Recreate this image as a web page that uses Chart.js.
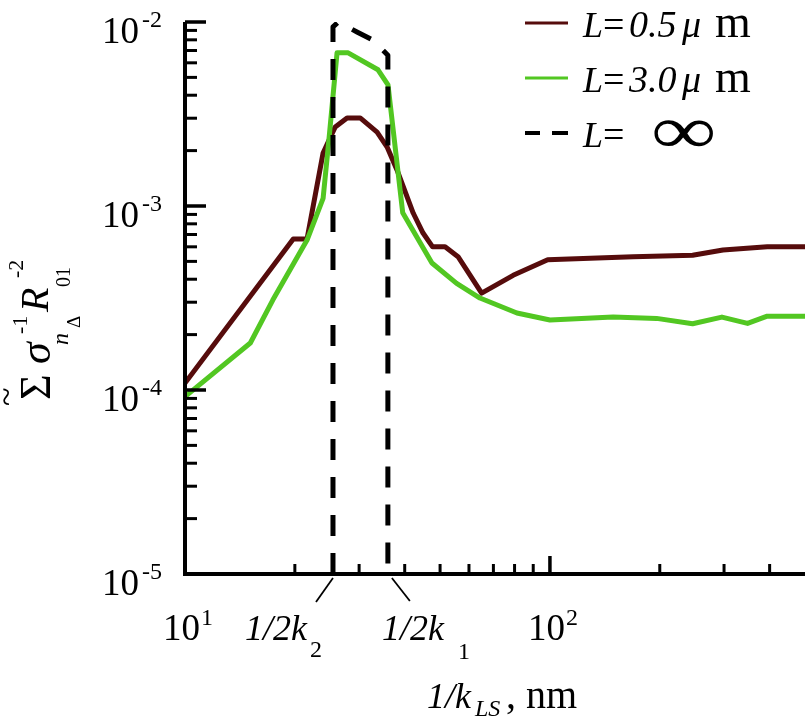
<!DOCTYPE html>
<html>
<head>
<meta charset="utf-8">
<script src="https://cdn.jsdelivr.net/npm/chart.js@4.4.1/dist/chart.umd.min.js"></script>
<style>
    html, body { margin: 0; padding: 0; background: #fff; }
    canvas { display: block; }
</style>
</head>
<body>
<canvas id="chart" width="807" height="722"></canvas>
<script>
    // tick decades
    const Y_EXPONENTS = [-2, -3, -4, -5];
    const X_EXPONENTS = [1, 2];

    // 1/2k2 and 1/2k1 marker positions (nm)
    const MARKER_X = [25.44, 35.97];
    const MARKER_SUB = ['2', '1'];

    // L = 0.5 um
    const X_05 = [10, 19.8, 21.6, 23.9, 25.8, 27.8, 30.2, 33.6, 35.8, 38.1, 42.2, 44.9, 47.7, 51.6, 56.0, 65.0, 79.3, 98.6, 169, 246, 298, 394, 500];
    const Y_05 = [1.09e-4, 6.62e-4, 6.62e-4, 1.94e-3, 2.69e-3, 3.01e-3, 3.01e-3, 2.52e-3, 2.09e-3, 1.57e-3, 9.16e-4, 7.13e-4, 6.0e-4, 6.0e-4, 5.3e-4, 3.36e-4, 4.2e-4, 5.1e-4, 5.3e-4, 5.4e-4, 5.77e-4, 6.0e-4, 6.0e-4];

    // L = 3.0 um
    const X_30 = [10, 15.1, 17.4, 21.6, 23.9, 24.9, 26.1, 28.0, 33.8, 36.0, 39.5, 47.5, 55.5, 64.3, 81.2, 100, 149, 196, 246, 296, 348, 394, 500];
    const Y_30 = [9.2e-5, 1.8e-4, 3.08e-4, 6.53e-4, 1.1e-3, 2.5e-3, 6.8e-3, 6.8e-3, 5.5e-3, 4.55e-3, 9.2e-4, 4.9e-4, 3.8e-4, 3.16e-4, 2.62e-4, 2.4e-4, 2.49e-4, 2.45e-4, 2.29e-4, 2.49e-4, 2.3e-4, 2.52e-4, 2.52e-4];

    // L = infinity
    const X_INF = [25.44, 25.44, 26.3, 29.6, 32.7, 35.97, 35.97];
    const Y_INF = [1e-5, 9.4e-3, 1.0e-2, 8.83e-3, 7.98e-3, 6.6e-3, 1e-5];

    const MAROON = '#560c0c';
    const GREEN = '#52c722';

    const SERIF = "'Liberation Serif', 'Times New Roman', serif";

    const toPoints = (xs, ys) => xs.map((x, i) => ({ x: x, y: ys[i] }));

    function text(ctx, str, x, y, size, style, align) {
        ctx.font = (style || '') + ' ' + size + 'px ' + SERIF;
        ctx.textAlign = align || 'left';
        ctx.textBaseline = 'alphabetic';
        ctx.fillText(str, x, y);
    }

    function line(ctx, x1, y1, x2, y2, w) {
        ctx.lineWidth = w;
        ctx.beginPath();
        ctx.moveTo(x1, y1);
        ctx.lineTo(x2, y2);
        ctx.stroke();
    }

    const axesPlugin = {
        id: 'paperAxes',
        afterDatasetsDraw(chart) {
            const ctx = chart.ctx;
            const area = chart.chartArea;
            const xs = chart.scales.x;
            const ys = chart.scales.y;

            ctx.save();
            ctx.strokeStyle = '#000';
            ctx.fillStyle = '#000';
            ctx.lineCap = 'butt';

            // axis lines
            line(ctx, area.left, area.top, area.left, area.bottom + 2, 4);
            line(ctx, area.left - 2, area.bottom, area.right, area.bottom, 4);

            // y ticks (inward)
            Y_EXPONENTS.forEach((e) => {
                const py = ys.getPixelForValue(Math.pow(10, e));
                line(ctx, area.left, py, area.left + 21, py, 3.5);
                if (e > -5) {
                    for (let m = 2; m <= 9; m++) {
                        const my = ys.getPixelForValue(m * Math.pow(10, e - 1));
                        line(ctx, area.left, my, area.left + 12, my, 3);
                    }
                }
                text(ctx, '10', 139, py + 21, 37, '', 'right');
                text(ctx, String(e), 142, py + 5, 24, '', 'left');
            });

            // x ticks (inward)
            X_EXPONENTS.forEach((e) => {
                const base = Math.pow(10, e);
                const px = xs.getPixelForValue(base);
                line(ctx, px, area.bottom, px, area.bottom - 18, 3.5);
                for (let m = 2; m <= 9; m++) {
                    const v = m * base;
                    if (v >= xs.max) break;
                    const mx = xs.getPixelForValue(v);
                    line(ctx, mx, area.bottom, mx, area.bottom - 10, 3);
                }
                text(ctx, '10', px + 15, 640, 37, '', 'right');
                text(ctx, String(e), px + 16, 625, 24, '', 'left');
            });

            // marker labels 1/2k
            MARKER_X.forEach((v, i) => {
                const px = xs.getPixelForValue(v);
                if (i === 0) {
                    line(ctx, px, area.bottom + 4, px - 17, area.bottom + 28, 1.8);
                    text(ctx, '1/2k', px - 88, 640, 36, 'italic');
                    text(ctx, MARKER_SUB[i], px - 23, 657, 24, '');
                } else {
                    line(ctx, px + 4, area.bottom + 4, px + 22, area.bottom + 27, 1.8);
                    text(ctx, '1/2k', px - 6, 640, 36, 'italic');
                    text(ctx, MARKER_SUB[i], px + 70, 659, 24, '');
                }
            });

            // x axis title
            text(ctx, '1/k', 427, 708, 36, 'italic');
            text(ctx, 'LS', 475, 716, 24, 'italic');
            text(ctx, ', nm', 506, 708, 40, '');

            // y axis title (rotated)
            ctx.save();
            ctx.translate(50, 400);
            ctx.rotate(-Math.PI / 2);
            text(ctx, '~', -6, -33, 34, '');
            text(ctx, '\u03A3', 0, 0, 44, '');
            text(ctx, '\u03C3', 36, 0, 44, 'italic');
            text(ctx, '-1', 66, -23, 22, '');
            text(ctx, 'n', 55, 18, 24, 'italic');
            text(ctx, '\u0394', 72, 30, 19, '');
            text(ctx, 'R', 88, -2, 40, 'italic');
            text(ctx, '-2', 122, -27, 22, '');
            text(ctx, '01', 113, 20, 20, '');
            ctx.restore();

            // legend
            const rows = [
                { color: MAROON, dash: false, num: '0.5', y: 23 },
                { color: GREEN, dash: false, num: '3.0', y: 78 },
                { color: '#000', dash: true, num: null, y: 133 }
            ];
            rows.forEach((r) => {
                ctx.strokeStyle = r.color;
                if (r.dash) {
                    line(ctx, 525, r.y, 540, r.y, 4);
                    line(ctx, 552, r.y, 568, r.y, 4);
                } else {
                    line(ctx, 525, r.y, 568, r.y, 3);
                }
                const base = r.y + 14;
                text(ctx, 'L', 583, base, 36, 'italic');
                text(ctx, '=', 603, base, 38, '');
                if (r.num) {
                    text(ctx, r.num, 629, base, 38, 'italic');
                    text(ctx, '\u03BC', 682, base, 38, 'italic');
                    text(ctx, 'm', 715, base, 46, '');
                } else {
                    ctx.save();
                    ctx.translate(651, base + 6);
                    ctx.scale(1.35, 1);
                    text(ctx, '\u221E', 0, 0, 68, '');
                    ctx.restore();
                }
            });

            ctx.restore();
        }
    };

    new Chart(document.getElementById('chart').getContext('2d'), {
        type: 'line',
        data: {
            datasets: [
                {
                    label: 'L=\u221E',
                    data: toPoints(X_INF, Y_INF),
                    borderColor: '#000',
                    borderWidth: 5,
                    borderDash: [21, 17],
                    order: 0
                },
                {
                    label: 'L=3.0\u03BCm',
                    data: toPoints(X_30, Y_30),
                    borderColor: GREEN,
                    borderWidth: 5,
                    order: 1
                },
                {
                    label: 'L=0.5\u03BCm',
                    data: toPoints(X_05, Y_05),
                    borderColor: MAROON,
                    borderWidth: 5,
                    order: 2
                }
            ]
        },
        options: {
            responsive: false,
            animation: false,
            devicePixelRatio: 1,
            layout: { padding: { left: 185, top: 22, right: 2, bottom: 148 } },
            elements: {
                point: { radius: 0 },
                line: { tension: 0, fill: false, borderJoinStyle: 'round' }
            },
            plugins: {
                legend: { display: false },
                tooltip: { enabled: false }
            },
            scales: {
                x: { type: 'logarithmic', min: 10, max: 500, display: false },
                y: { type: 'logarithmic', min: 1e-5, max: 1e-2, display: false }
            }
        },
        plugins: [axesPlugin]
    });
</script>
</body>
</html>
